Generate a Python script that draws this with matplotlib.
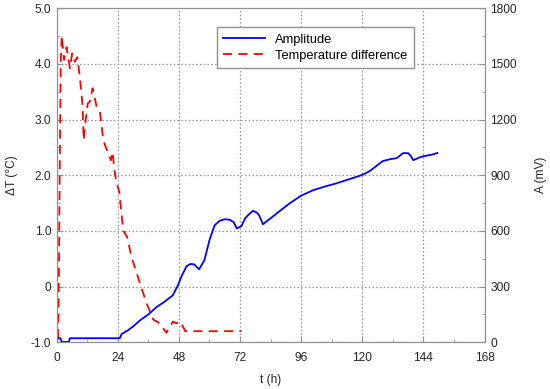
import matplotlib
matplotlib.use("Agg")
import matplotlib.pyplot as plt
from matplotlib.ticker import MultipleLocator

plt.rcParams['font.family'] = ['Liberation Sans', 'DejaVu Sans']

# Amplitude (mV), right axis
t_amp = [0, 1.5, 2, 4.8, 5.2, 24.8, 25.5, 26.8, 28, 30, 32.7, 36, 39.2, 42, 45.6,
         47.6, 49, 51, 52.5, 54, 55.9, 58, 60, 62, 64, 66, 68, 69.5, 70.7, 72.5,
         74, 75.5, 77, 78.5, 79.5, 81, 86, 91.5, 96, 100.6, 105, 110, 114, 117.7,
         120.5, 123, 125.5, 128, 131, 133.5, 136, 138, 139, 140, 141.5, 143, 145,
         147, 149.5]
amp = [22, 22, 2, 2, 22, 22, 45, 55, 65, 85, 118, 150, 190, 215, 253,
       307, 355, 410, 422, 420, 393, 442, 550, 630, 655, 663, 660, 647, 614, 625,
       668, 690, 708, 700, 684, 636, 690, 749, 790, 819, 838, 857, 875, 891,
       905, 923, 950, 976, 987, 992, 1019, 1019, 1005, 981, 990, 999, 1005,
       1010, 1020]

# Temperature difference (degC), left axis
t_dt = [0.2, 0.5, 0.8, 1.2, 1.6, 2.0, 2.9, 3.9, 5.2, 6.1, 7.2, 8.1, 9.1, 10.2,
        10.6, 11.4, 12.2, 13.0, 14.1, 15.7, 17.0, 18.3, 20.2, 21.3, 22.0, 22.5,
        23.3, 24.6, 26.1, 27.7, 29.4, 32.7, 35.3, 37.9, 40.5, 43.1, 44.4, 45.7,
        47.0, 48.3, 49.6, 50.5, 72.5]
dt = [-0.8, -1.0, -0.2, 2.0, 4.01, 4.51, 4.07, 4.30, 3.92, 4.19, 4.04, 4.12,
      3.77, 3.23, 2.63, 2.99, 3.29, 3.32, 3.56, 3.23, 3.14, 2.63, 2.39, 2.27,
      2.42, 2.15, 1.91, 1.70, 1.01, 0.89, 0.53, 0.06, -0.30, -0.59, -0.66,
      -0.83, -0.72, -0.63, -0.66, -0.62, -0.72, -0.80, -0.80]

x_ticks = [0, 24, 48, 72, 96, 120, 144, 168]

fig = plt.figure(figsize=(5.5, 3.89), dpi=100)
ax = fig.add_axes([0.103, 0.12, 0.778, 0.859])
ax2 = ax.twinx()

l2, = ax.plot(t_dt, dt, color='#ff0000', lw=1.3, ls=(0, (5, 3.5)),
              label='Temperature difference')
l1, = ax2.plot(t_amp, amp, color='#0000ff', lw=1.3, label='Amplitude')

ax.set_xlim(0, 168)
ax.set_ylim(-1, 5)
ax2.set_ylim(0, 1800)
ax.set_xticks(x_ticks)
ax.xaxis.set_minor_locator(MultipleLocator(12))
ax.set_yticks([-1, 0, 1, 2, 3, 4, 5])
ax.set_yticklabels(['-1.0', '0', '1.0', '2.0', '3.0', '4.0', '5.0'])
ax.yaxis.set_minor_locator(MultipleLocator(0.5))
ax2.set_yticks([0, 300, 600, 900, 1200, 1500, 1800])
ax2.yaxis.set_minor_locator(MultipleLocator(150))

ax.grid(True, which='major', color='#909090', ls=(0, (1.2, 1.8)), lw=0.9)

for a in (ax, ax2):
    for s in a.spines.values():
        s.set_color('#909090')
    a.tick_params(which='both', direction='in', color='#909090',
                  labelsize=8.6, labelcolor='#222222', pad=4)
    a.tick_params(which='major', length=4)
    a.tick_params(which='minor', length=2.5)
ax.tick_params(axis='x', pad=7)

ax.set_xlabel('t (h)', fontsize=8.6, color='#222222', labelpad=7)
ax.set_ylabel('ΔT (°C)', fontsize=8.6, color='#222222', labelpad=9)
ax2.set_ylabel('A (mV)', fontsize=8.6, color='#222222', labelpad=13)

leg = ax2.legend([l1, l2], ['Amplitude', 'Temperature difference'],
                 loc='upper left', bbox_to_anchor=(0.3745, 0.943),
                 borderaxespad=0, fontsize=9.3, fancybox=False, framealpha=1,
                 edgecolor='#909090', handlelength=3.2, borderpad=0.5,
                 labelspacing=0.3, handletextpad=0.8)
leg.get_frame().set_linewidth(1.0)

fig.savefig('out.png', dpi=100)
